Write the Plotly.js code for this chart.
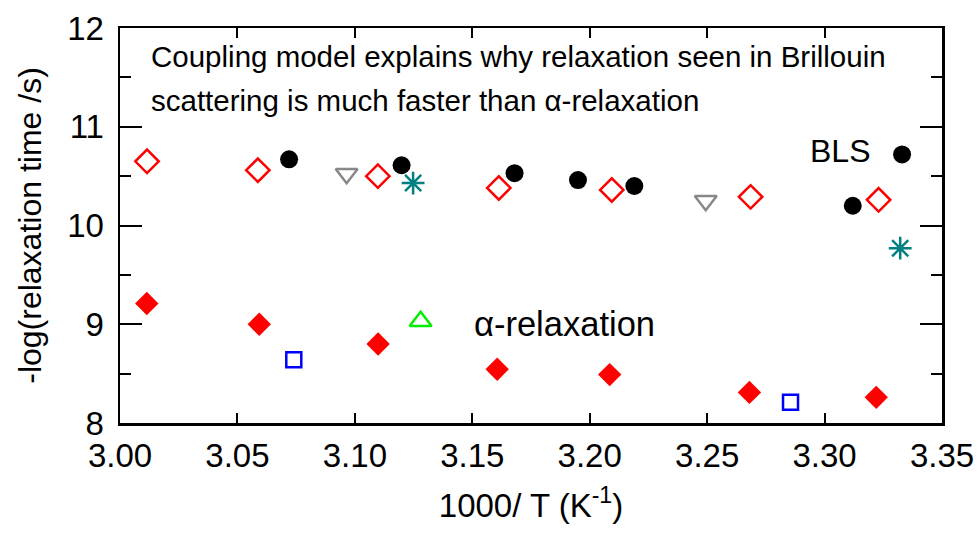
<!DOCTYPE html>
<html>
<head>
<meta charset="utf-8">
<script src="https://cdn.plot.ly/plotly-3.0.1.min.js"></script>
<style>html,body{margin:0;padding:0;background:#fff;}#chart{width:980px;height:533px;}</style>
</head>
<body>
<div id="chart"></div>
<script>
// BLS (Brillouin light scattering) — open red diamonds
const blsOpenX = [3.0115, 3.0587, 3.1098, 3.1613, 3.2094, 3.2685, 3.3230];
const blsOpenY = [10.65, 10.56, 10.50, 10.38, 10.36, 10.29, 10.26];
// BLS — filled black circles
const blsCircX = [3.072, 3.1199, 3.168, 3.195, 3.219, 3.312, 3.333];
const blsCircY = [10.67, 10.61, 10.53, 10.46, 10.40, 10.20, 10.72];
// BLS — gray down triangles
const blsTriX = [3.0965, 3.2494];
const blsTriY = [10.525, 10.25];
// BLS — teal asterisks
const blsAstX = [3.1248, 3.3322];
const blsAstY = [10.43, 9.77];
// alpha-relaxation — filled red diamonds
const alphaDiaX = [3.0114, 3.0593, 3.1099, 3.1606, 3.2085, 3.2680, 3.3220];
const alphaDiaY = [9.21, 9.00, 8.80, 8.545, 8.49, 8.31, 8.26];
// alpha-relaxation — open blue squares
const alphaSqX = [3.074, 3.2855];
const alphaSqY = [8.64, 8.21];
// alpha-relaxation — open green triangle
const alphaTriX = [3.128];
const alphaTriY = [9.03];

const xTicks = [3.00, 3.05, 3.10, 3.15, 3.20, 3.25, 3.30, 3.35];
const xTickText = ['3.00', '3.05', '3.10', '3.15', '3.20', '3.25', '3.30', '3.35'];
const yTicks = [8, 9, 10, 11, 12];

const FONT = 'Liberation Sans, Arial, sans-serif';

const traces = [
  {x: blsOpenX, y: blsOpenY, mode: 'markers', type: 'scatter',
   marker: {symbol: 'diamond-open', size: 18, color: '#ff0000', line: {width: 2.5, color: '#ff0000'}}},
  {x: blsCircX, y: blsCircY, mode: 'markers', type: 'scatter',
   marker: {symbol: 'circle', size: 18, color: '#000000'}},
  {x: blsTriX, y: blsTriY, mode: 'markers', type: 'scatter',
   marker: {symbol: 'triangle-down-open', size: 19, color: '#888888', line: {width: 2.5, color: '#888888'}}},
  {x: blsAstX, y: blsAstY, mode: 'markers', type: 'scatter',
   marker: {symbol: 'asterisk-open', size: 19, color: '#008080', line: {width: 2.5, color: '#008080'}}},
  {x: alphaDiaX, y: alphaDiaY, mode: 'markers', type: 'scatter',
   marker: {symbol: 'diamond', size: 18, color: '#ff0000'}},
  {x: alphaSqX, y: alphaSqY, mode: 'markers', type: 'scatter',
   marker: {symbol: 'square-open', size: 15, color: '#0000ff', line: {width: 2.5, color: '#0000ff'}}},
  {x: alphaTriX, y: alphaTriY, mode: 'markers', type: 'scatter',
   marker: {symbol: 'triangle-up-open', size: 19, color: '#00ee00', line: {width: 2.5, color: '#00ee00'}}}
];

const layout = {
  width: 980, height: 533,
  margin: {l: 120, r: 38, t: 28, b: 110},
  paper_bgcolor: '#ffffff', plot_bgcolor: '#ffffff',
  showlegend: false,
  font: {family: FONT, color: '#000000', size: 33},
  xaxis: {
    range: [3.00, 3.35], tickvals: xTicks, ticktext: xTickText,
    ticks: 'inside', ticklen: 10, tickwidth: 2, tickcolor: '#000',
    showline: true, linewidth: 2.5, linecolor: '#000', mirror: 'allticks',
    showgrid: false, zeroline: false,
    tickfont: {family: FONT, size: 33},
    ticklabelstandoff: 2,
    title: {text: '1000/ T (K<sup>-1</sup>)', font: {family: FONT, size: 33}, standoff: 21}
  },
  yaxis: {
    range: [8, 12], tickvals: yTicks,
    ticks: 'inside', ticklen: 22, tickwidth: 2, tickcolor: '#000',
    minor: {dtick: 0.5, tick0: 8, ticks: 'inside', ticklen: 11, tickwidth: 2, tickcolor: '#000'},
    showline: true, linewidth: 2.5, linecolor: '#000', mirror: 'allticks',
    showgrid: false, zeroline: false,
    tickfont: {family: FONT, size: 33},
    ticklabelstandoff: 7,
    title: {text: '-log(relaxation time /s)', font: {family: FONT, size: 32}, standoff: 16}
  },
  annotations: [
    {xref: 'paper', yref: 'paper', x: 0.0353, y: 0.9266, xanchor: 'left', yanchor: 'middle',
     text: 'Coupling model explains why relaxation seen in Brillouin', showarrow: false,
     font: {family: FONT, size: 29.5, color: '#000'}},
    {xref: 'paper', yref: 'paper', x: 0.0353, y: 0.8177, xanchor: 'left', yanchor: 'middle',
     text: 'scattering is much faster than α-relaxation', showarrow: false,
     font: {family: FONT, size: 29.5, color: '#000'}},
    {xref: 'x', yref: 'y', x: 3.3064, y: 10.75, xanchor: 'center', yanchor: 'middle',
     text: 'BLS', showarrow: false, font: {family: FONT, size: 32, color: '#000'}},
    {xref: 'x', yref: 'y', x: 3.1894, y: 9.0, xanchor: 'center', yanchor: 'middle',
     text: 'α-relaxation', showarrow: false, font: {family: FONT, size: 34.5, color: '#000'}}
  ]
};

Plotly.newPlot('chart', traces, layout, {displayModeBar: false, staticPlot: true});
</script>
</body>
</html>
